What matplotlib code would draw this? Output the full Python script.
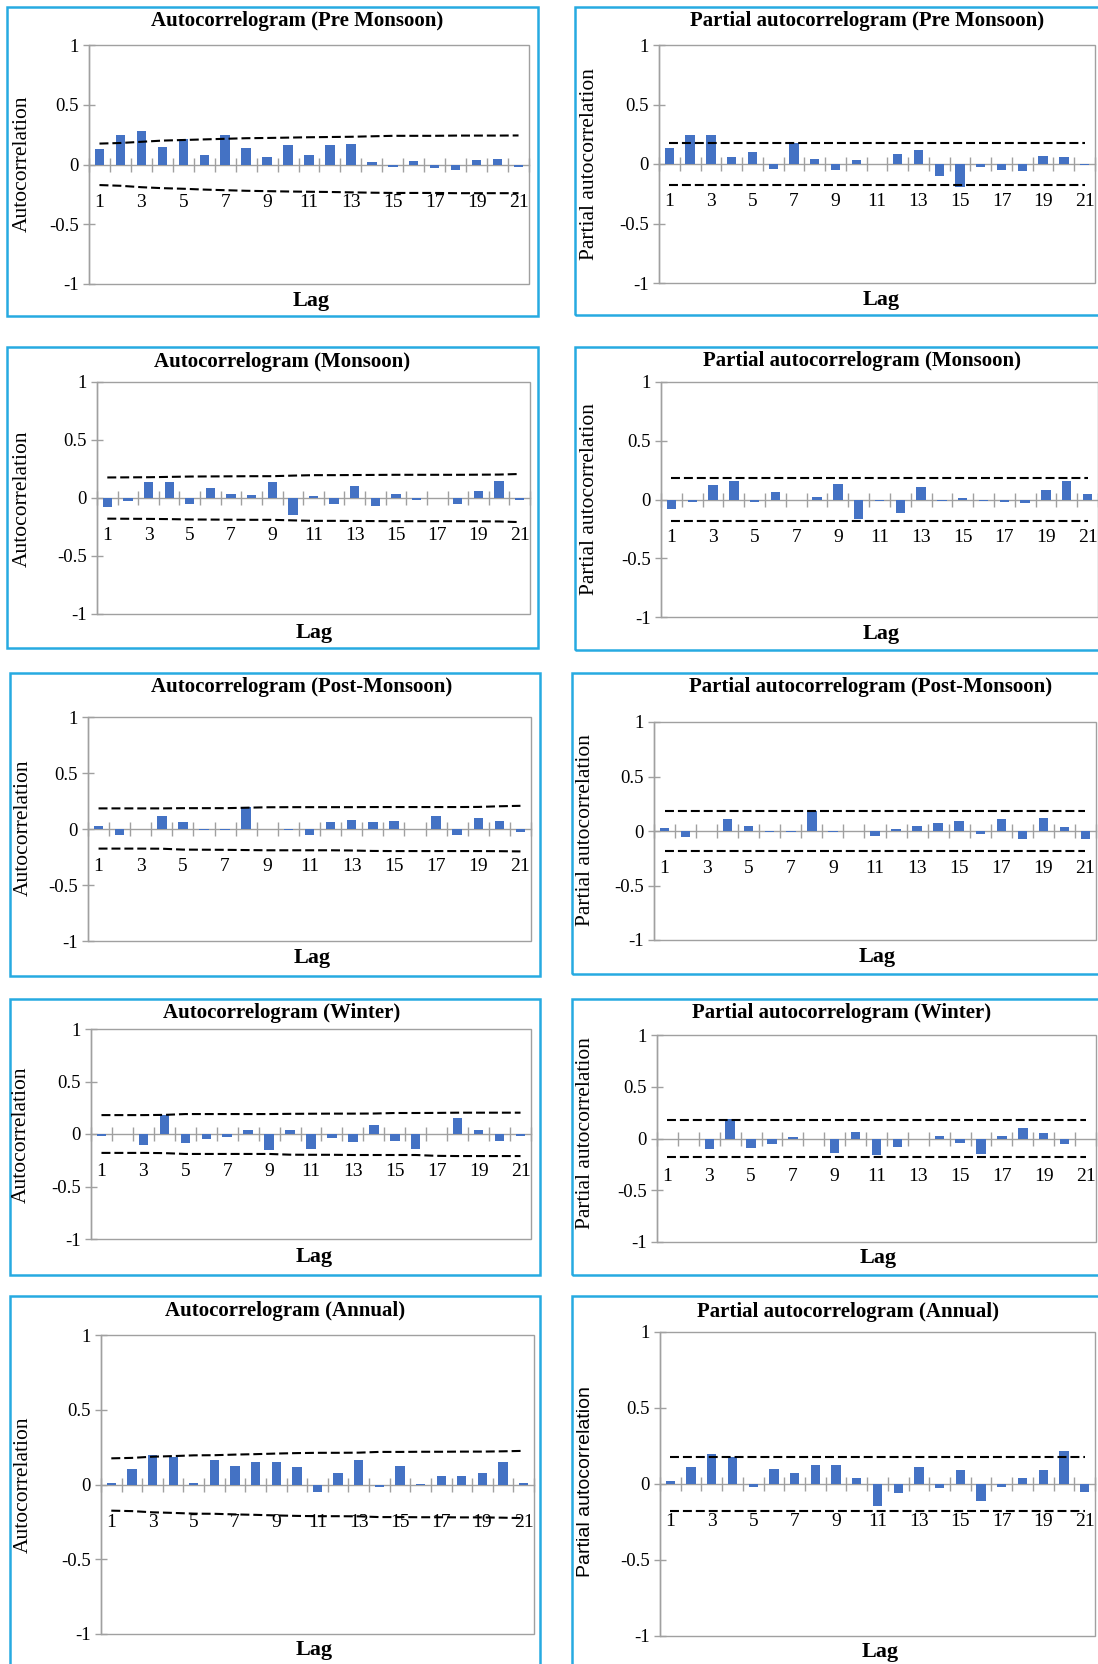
import numpy as np
import matplotlib
matplotlib.use("Agg")
import matplotlib.pyplot as plt
from matplotlib.patches import Rectangle

W, H = 1098, 1664  # output size in pixels

lags = list(range(1, 22))
lag_labels = [str(k) for k in range(1, 22, 2)]
ytick_vals = [-1, -0.5, 0, 0.5, 1]
ytick_labels = ["-1", "-0.5", "0", "0.5", "1"]

# --- Pre Monsoon
acf_pre = [0.13, 0.25, 0.28, 0.15, 0.21, 0.08, 0.25, 0.14, 0.06, 0.165, 0.08,
           0.165, 0.175, 0.02, -0.025, 0.03, -0.033, -0.05, 0.04, 0.05, -0.025]
acf_pre_up = [0.175, 0.18, 0.19, 0.20, 0.205, 0.21, 0.215, 0.22, 0.222, 0.225, 0.228,
              0.23, 0.232, 0.236, 0.24, 0.24, 0.24, 0.242, 0.242, 0.242, 0.243]
acf_pre_lo = [-0.172, -0.178, -0.19, -0.198, -0.203, -0.21, -0.215, -0.22, -0.223, -0.226, -0.228,
              -0.23, -0.233, -0.236, -0.238, -0.238, -0.238, -0.24, -0.24, -0.24, -0.24]
pacf_pre = [0.134, 0.24, 0.24, 0.056, 0.10, -0.04, 0.18, 0.045, -0.05, 0.033, 0.003,
            0.085, 0.12, -0.10, -0.195, -0.022, -0.05, -0.06, 0.067, 0.056, -0.012]
pacf_pre_band = 0.178

# --- Monsoon
acf_mon = [-0.08, -0.023, 0.134, 0.134, -0.05, 0.086, 0.034, 0.026, 0.134, -0.15, 0.017,
           -0.05, 0.106, -0.07, 0.034, -0.014, 0.0, -0.05, 0.057, 0.143, -0.014]
acf_mon_up = [0.177, 0.178, 0.179, 0.182, 0.185, 0.186, 0.187, 0.188, 0.188, 0.193, 0.197,
              0.197, 0.198, 0.199, 0.2, 0.2, 0.2, 0.2, 0.201, 0.202, 0.207]
acf_mon_lo = [-0.178, -0.179, -0.18, -0.182, -0.185, -0.186, -0.187, -0.188, -0.188, -0.193, -0.197,
              -0.197, -0.198, -0.199, -0.2, -0.2, -0.2, -0.2, -0.201, -0.202, -0.208]
pacf_mon = [-0.085, -0.023, 0.127, 0.156, -0.023, 0.065, 0.0, 0.025, 0.136, -0.17, -0.014,
            -0.113, 0.108, -0.014, 0.014, -0.014, -0.023, -0.034, 0.085, 0.156, 0.045]
pacf_mon_band = 0.18

# --- Post-Monsoon
acf_post = [0.024, -0.05, 0.0, 0.119, 0.059, -0.012, -0.012, 0.20, 0.0, -0.012, -0.05,
            0.059, 0.077, 0.059, 0.071, 0.0, 0.119, -0.05, 0.098, 0.071, -0.03]
acf_post_up = [0.184, 0.184, 0.184, 0.184, 0.186, 0.186, 0.186, 0.19, 0.194, 0.195, 0.195,
               0.195, 0.195, 0.196, 0.196, 0.196, 0.196, 0.196, 0.197, 0.203, 0.207]
acf_post_lo = [-0.175, -0.175, -0.175, -0.176, -0.184, -0.185, -0.186, -0.188, -0.19, -0.19, -0.19,
               -0.19, -0.192, -0.196, -0.197, -0.197, -0.197, -0.197, -0.197, -0.198, -0.2]
pacf_post = [0.024, -0.055, 0.0, 0.113, 0.046, -0.012, -0.012, 0.183, -0.012, 0.0, -0.046,
             0.015, 0.046, 0.07, 0.092, -0.024, 0.113, -0.076, 0.122, 0.037, -0.076]
pacf_post_band = 0.18

# --- Winter
acf_win = [-0.016, 0.0, -0.105, 0.185, -0.083, -0.051, -0.032, 0.038, -0.153, 0.038, -0.144,
           -0.038, -0.073, 0.083, -0.064, -0.144, 0.0, 0.153, 0.038, -0.064, -0.016]
acf_win_up = [0.18, 0.18, 0.18, 0.182, 0.19, 0.19, 0.19, 0.19, 0.19, 0.192, 0.193,
              0.194, 0.194, 0.195, 0.2, 0.2, 0.201, 0.203, 0.203, 0.203, 0.203]
acf_win_lo = [-0.18, -0.18, -0.18, -0.182, -0.19, -0.19, -0.19, -0.19, -0.19, -0.197, -0.198,
              -0.198, -0.2, -0.2, -0.2, -0.2, -0.208, -0.21, -0.21, -0.21, -0.21]
pacf_win = [0.0, 0.0, -0.10, 0.19, -0.088, -0.055, 0.016, 0.0, -0.137, 0.062, -0.163,
            -0.078, 0.0, 0.026, -0.042, -0.153, 0.026, 0.10, 0.049, -0.055, 0.0]
pacf_win_band = 0.18

# --- Annual
acf_ann = [0.011, 0.105, 0.20, 0.186, 0.011, 0.161, 0.121, 0.152, 0.152, 0.114, -0.047,
           0.074, 0.161, -0.016, 0.121, 0.004, 0.058, 0.058, 0.08, 0.152, 0.011]
acf_ann_up = [0.175, 0.178, 0.186, 0.19, 0.195, 0.196, 0.2, 0.203, 0.207, 0.21, 0.212,
              0.212, 0.213, 0.218, 0.218, 0.219, 0.219, 0.22, 0.22, 0.222, 0.225]
acf_ann_lo = [-0.175, -0.178, -0.186, -0.19, -0.195, -0.196, -0.2, -0.203, -0.207, -0.21, -0.212,
              -0.212, -0.213, -0.218, -0.218, -0.219, -0.219, -0.22, -0.22, -0.222, -0.225]
pacf_ann = [0.02, 0.112, 0.20, 0.177, -0.018, 0.096, 0.074, 0.127, 0.127, 0.042, -0.147,
            -0.057, 0.112, -0.026, 0.09, -0.109, -0.018, 0.042, 0.09, 0.219, -0.05]
pacf_ann_band = 0.178

BLUE = "#4472C4"
GRAY = "#a0a0a0"
FRAME = "#27aae1"
SERIF = "Liberation Serif"
SANS = "Liberation Sans"

plt.rcParams["font.family"] = SERIF


def fx(x):
    return x / W


def fy(y):
    return 1 - y / H


def add_axes(fig, l, t, r, b):
    return fig.add_axes([fx(l), fy(b), (r - l) / W, (b - t) / H])


def draw_panel(ax, vals, upper, lower):
    ax.bar(lags, vals, width=0.45, color=BLUE, zorder=3)
    ax.plot(lags, upper, color="black", lw=1.5, dashes=(4.3, 1.9), zorder=4)
    ax.plot(lags, lower, color="black", lw=1.5, dashes=(4.3, 1.9), zorder=4)
    ax.set_xlim(0.5, 21.5)
    ax.set_ylim(-1, 1)
    ax.set_yticks(ytick_vals)
    ax.set_yticklabels(ytick_labels)
    ax.spines["bottom"].set_position(("data", 0))
    ax.spines["top"].set_visible(False)
    ax.spines["right"].set_visible(False)
    for s in ("bottom", "left"):
        ax.spines[s].set_color(GRAY)
        ax.spines[s].set_linewidth(1.0)
    ax.add_patch(Rectangle((0, 0), 1, 1, transform=ax.transAxes, fill=False,
                           ec=GRAY, lw=1.0, zorder=1, clip_on=False))
    # category boundaries carry the tick marks, odd lags carry the labels
    ax.set_xticks(np.arange(0.5, 22, 1))
    ax.set_xticklabels([])
    ax.set_xticks(range(1, 22, 2), minor=True)
    ax.set_xticklabels(lag_labels, minor=True)
    ax.tick_params(axis="x", which="major", direction="inout", length=10, width=1, color=GRAY)
    ax.tick_params(axis="x", which="minor", length=0, pad=21, labelsize=14)
    ax.tick_params(axis="y", direction="inout", length=9, width=1, color=GRAY, pad=3, labelsize=13.5)
    ax.patch.set_alpha(0)


fig = plt.figure(figsize=(W / 100, H / 100), dpi=100)

# plot area, outer frame, title centre, "Lag" centre, y-label centre (all in pixels)
panels = [
    dict(vals=acf_pre, up=acf_pre_up, lo=acf_pre_lo, plot=(89, 45, 529, 284), box=(7, 7, 538, 316),
         title="Autocorrelogram (Pre Monsoon)", tpos=(297, 21), lpos=(311, 301), ypos=(22, 164),
         ylab="Autocorrelation", yfont=SERIF),
    dict(vals=pacf_pre, band=pacf_pre_band, plot=(659, 45, 1095, 283), box=(575, 7, 1115, 315),
         title="Partial autocorrelogram (Pre Monsoon)", tpos=(867, 21), lpos=(881, 300), ypos=(590, 164),
         ylab="Partial autocorrelation", yfont=SERIF),
    dict(vals=acf_mon, up=acf_mon_up, lo=acf_mon_lo, plot=(97, 382, 530, 614), box=(7, 347, 538, 648),
         title="Autocorrelogram (Monsoon)", tpos=(282, 362), lpos=(314, 633), ypos=(22, 499),
         ylab="Autocorrelation", yfont=SERIF),
    dict(vals=pacf_mon, band=pacf_mon_band, plot=(661, 382, 1098, 617), box=(575, 347, 1115, 650),
         title="Partial autocorrelogram (Monsoon)", tpos=(862, 361), lpos=(881, 634), ypos=(590, 499),
         ylab="Partial autocorrelation", yfont=SERIF),
    dict(vals=acf_post, up=acf_post_up, lo=acf_post_lo, plot=(88, 717, 531, 941), box=(10, 673, 540, 976),
         title="Autocorrelogram (Post-Monsoon)", tpos=(302, 687), lpos=(312, 958), ypos=(23, 828),
         ylab="Autocorrelation", yfont=SERIF),
    dict(vals=pacf_post, band=pacf_post_band, plot=(654, 722, 1096, 940), box=(572, 673, 1115, 974),
         title="Partial autocorrelogram (Post-Monsoon)", tpos=(871, 687), lpos=(877, 957), ypos=(585, 830),
         ylab="Partial autocorrelation", yfont=SERIF),
    dict(vals=acf_win, up=acf_win_up, lo=acf_win_lo, plot=(91, 1029, 531, 1239), box=(10, 999, 540, 1275),
         title="Autocorrelogram (Winter)", tpos=(282, 1013), lpos=(314, 1257), ypos=(21, 1135),
         ylab="Autocorrelation", yfont=SERIF),
    dict(vals=pacf_win, band=pacf_win_band, plot=(657, 1035, 1096, 1242), box=(572, 999, 1115, 1275),
         title="Partial autocorrelogram (Winter)", tpos=(842, 1013), lpos=(878, 1258), ypos=(586, 1133),
         ylab="Partial autocorrelation", yfont=SERIF),
    dict(vals=acf_ann, up=acf_ann_up, lo=acf_ann_lo, plot=(101, 1335, 534, 1634), box=(10, 1296, 540, 1680),
         title="Autocorrelogram (Annual)", tpos=(285, 1311), lpos=(314, 1650), ypos=(23, 1485),
         ylab="Autocorrelation", yfont=SERIF),
    dict(vals=pacf_ann, band=pacf_ann_band, plot=(660, 1332, 1095, 1636), box=(572, 1296, 1115, 1680),
         title="Partial autocorrelogram (Annual)", tpos=(848, 1312), lpos=(880, 1652), ypos=(585, 1482),
         ylab="Partial autocorrelation", yfont=SANS),
]

for p in panels:
    bl, bt, br, bb = p["box"]
    fig.patches.append(Rectangle((fx(bl), fy(bb)), (br - bl) / W, (bb - bt) / H,
                                 transform=fig.transFigure, fill=False, ec=FRAME, lw=1.8))
    ax = add_axes(fig, *p["plot"])
    if "band" in p:
        up = np.full(len(lags), p["band"])
        lo = -up
    else:
        up, lo = p["up"], p["lo"]
    draw_panel(ax, p["vals"], up, lo)
    fig.text(fx(p["tpos"][0]), fy(p["tpos"][1]), p["title"], ha="center", va="center",
             fontsize=15, fontweight="bold")
    fig.text(fx(p["lpos"][0]), fy(p["lpos"][1]), "Lag", ha="center", va="center",
             fontsize=16, fontweight="bold")
    ysize = 14 if p["yfont"] == SANS else 15.5
    fig.text(fx(p["ypos"][0]), fy(p["ypos"][1]), p["ylab"], ha="center", va="center",
             rotation=90, fontsize=ysize, family=p["yfont"])

fig.savefig("out.png", dpi=100)
